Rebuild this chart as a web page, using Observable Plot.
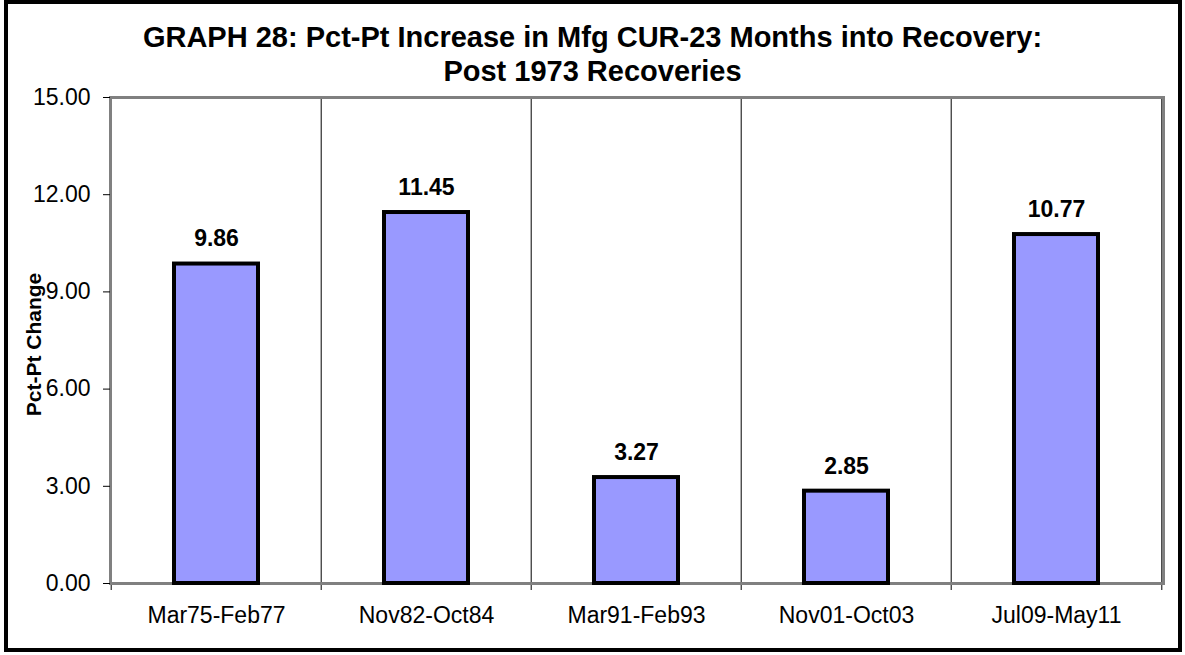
<!DOCTYPE html>
<html>
<head>
<meta charset="utf-8">
<script src="https://cdn.jsdelivr.net/npm/d3@7"></script>
<script src="https://cdn.jsdelivr.net/npm/@observablehq/plot@0.6"></script>
<style>
  html, body { margin: 0; padding: 0; background: #fff; }
  body { width: 1185px; height: 655px; position: relative; overflow: hidden; font-family: "Liberation Sans", Arial, sans-serif; }
  #box { position: absolute; left: 4px; top: 0px; width: 1178px; height: 652px; box-sizing: border-box; border: 4px solid #000; }
  #title { position: absolute; left: 0; top: 20px; width: 1185px; text-align: center; font-weight: bold; font-size: 29px; line-height: 34px; color: #000; }
  #chart { position: absolute; left: 0; top: 0; }
</style>
</head>
<body>
<div id="box"></div>
<div id="chart"></div>
<div id="title">GRAPH 28: Pct-Pt Increase in Mfg CUR-23 Months into Recovery:<br>Post 1973 Recoveries</div>
<script>
const categories = ["Mar75-Feb77", "Nov82-Oct84", "Mar91-Feb93", "Nov01-Oct03", "Jul09-May11"];
const values = [9.86, 11.45, 3.27, 2.85, 10.77];
const yTicks = [0, 3, 6, 9, 12, 15];
const yLabel = "Pct-Pt Change";

const data = categories.map((c, i) => ({category: c, value: values[i]}));

const W = 1185, H = 655;
const mL = 110, mR = 22, mT = 97, mB = 72;
const step = (W - mL - mR) / categories.length;
const font = "'Liberation Sans', Arial, sans-serif";

const chart = Plot.plot({
  width: W,
  height: H,
  marginLeft: mL,
  marginRight: mR,
  marginTop: mT,
  marginBottom: mB,
  style: {fontFamily: font, background: "transparent", color: "#000", overflow: "visible"},
  x: {domain: categories, paddingInner: 0.6, paddingOuter: 0.3},
  y: {domain: [0, 15]},
  marks: [
    Plot.ruleX(categories, {x: d => d, dx: -step / 2, stroke: "#000", strokeWidth: 1, insetBottom: -7}),
    Plot.ruleX([categories[categories.length - 1]], {x: d => d, dx: step / 2, stroke: "#000", strokeWidth: 1, insetBottom: -7}),
    Plot.frame({stroke: "#808080", strokeWidth: 3}),
    Plot.barY(data, {x: "category", y: "value", fill: "#9999FF", stroke: "#000", strokeWidth: 4}),
    Plot.text(data, {x: "category", y: "value", text: d => d.value.toFixed(2), dy: -25, fontWeight: "bold", fontSize: 23, fill: "#000"}),
    Plot.axisY({ticks: yTicks, tickFormat: d => d.toFixed(2), tickSize: 7, tickPadding: 13, fontSize: 23, stroke: "#000", label: null}),
    Plot.axisX({tickSize: 0, tickPadding: 23, fontSize: 23, label: null}),
    Plot.text([yLabel], {frameAnchor: "left", dx: -76, dy: 4, rotate: -90, textAnchor: "middle", fontWeight: "bold", fontSize: 21, fill: "#000"})
  ]
});
document.getElementById("chart").appendChild(chart);
</script>
</body>
</html>
